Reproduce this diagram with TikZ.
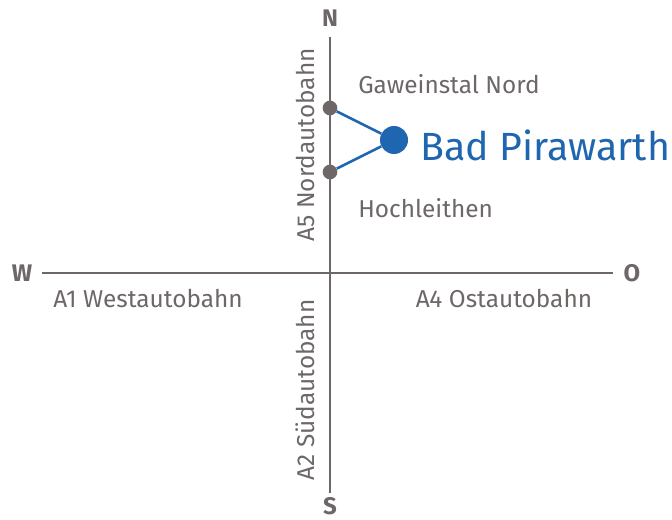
\documentclass[tikz,border=0pt]{standalone}
\usepackage{fontspec}
\setmainfont{Fira Sans}
\usetikzlibrary{positioning}
\definecolor{roadgray}{HTML}{6D6867}
\definecolor{pirablue}{HTML}{1F66B0}

\begin{document}
\begin{tikzpicture}[x=0.75pt,y=-0.75pt,
    road/.style={draw=roadgray,line width=2.2pt},
    link/.style={draw=pirablue,line width=1.9pt},
    exit/.style={circle,fill=roadgray,inner sep=0pt,minimum size=11pt},
    town/.style={circle,fill=pirablue,inner sep=0pt,minimum size=21pt},
    compass/.style={text=roadgray,inner sep=0pt,font=\bfseries\fontsize{18}{21}\selectfont},
    place/.style={text=roadgray,font=\fontsize{18.3}{21}\selectfont,inner sep=0pt},
    townlabel/.style={text=pirablue,font=\fontsize{29.5}{34}\selectfont,inner sep=0pt}]
  \useasboundingbox (0,0) rectangle (672,520);

  % compass points
  \node[compass] (N) at (330,18)  {N};
  \node[compass] (S) at (330,506) {S};
  \node[compass] (W) at (22,273)  {W};
  \node[compass] (O) at (632,273) {O};

  % road ends
  \coordinate (n) at (330,37);
  \coordinate (s) at (330,493);
  \coordinate (w) at (42,273);
  \coordinate (o) at (613,273);
  \draw[road] (n) -- (s);
  \draw[road] (w) -- (o);

  % road names
  \node[place,rotate=90] (a5) at (305,145) {A5 Nordautobahn};
  \node[place,rotate=90] (a2) at (305,390) {A2 Südautobahn};
  \node[place] (a1) at (148,298) {A1 Westautobahn};
  \node[place] (a4) at (504,298) {A4 Ostautobahn};

  % exits and town
  \node[exit] (gaw)  at (330,108) {};
  \node[exit] (hoch) at (330,172) {};
  \node[town] (bad)  at (394,140) {};
  \draw[link] (gaw) -- (bad);
  \draw[link] (hoch) -- (bad);

  \node[place,anchor=west] (gawlabel)  at (358,84)  {Gaweinstal Nord};
  \node[place,anchor=west] (hochlabel) at (358,208) {Hochleithen};
  \node[townlabel,anchor=west] (badlabel) at (420,145) {Bad Pirawarth};
\end{tikzpicture}
\end{document}
